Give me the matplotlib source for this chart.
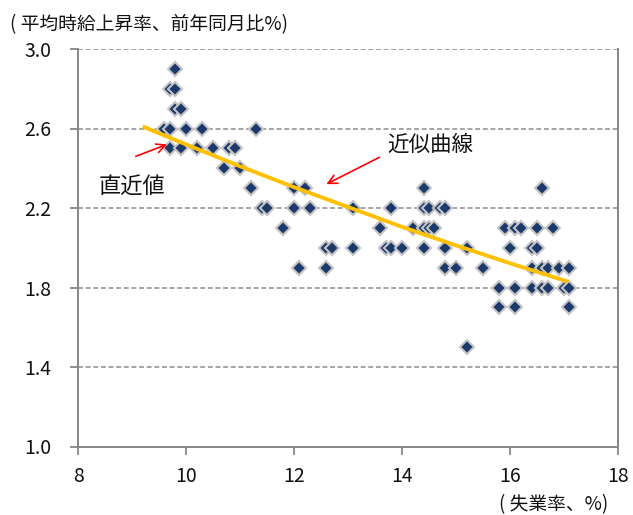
import matplotlib
matplotlib.use("Agg")
import matplotlib.pyplot as plt

plt.rcParams["font.family"] = ["Noto Sans CJK JP", "DejaVu Sans"]

# unemployment rate (%) and hourly wage growth (% y/y)
unemp = [
    9.8,
    9.7, 9.8,
    9.8, 9.9,
    9.6, 9.7, 10.0, 10.3, 11.3,
    9.7, 9.9, 10.2, 10.5, 10.8, 10.9,
    10.7, 11.0,
    11.2, 12.0, 12.2, 14.4, 16.6,
    11.4, 11.5, 12.0, 12.3, 13.1, 13.8, 14.4, 14.5, 14.7, 14.8,
    11.8, 13.6, 14.2, 14.4, 14.5, 14.6, 15.9, 16.1, 16.2, 16.5, 16.8,
    12.6, 12.7, 13.1, 13.7, 13.8, 14.0, 14.4, 14.8, 15.2, 16.0, 16.4, 16.5,
    12.1, 12.6, 14.8, 15.0, 15.5, 16.4, 16.6, 16.7, 16.9, 17.1,
    15.8, 16.1, 16.4, 16.6, 16.7, 17.0, 17.1,
    15.8, 16.1, 17.1,
    15.2,
]
wage = (
    [2.9]
    + [2.8] * 2
    + [2.7] * 2
    + [2.6] * 5
    + [2.5] * 6
    + [2.4] * 2
    + [2.3] * 5
    + [2.2] * 10
    + [2.1] * 11
    + [2.0] * 12
    + [1.9] * 10
    + [1.8] * 7
    + [1.7] * 3
    + [1.5]
)

# trend curve as drawn in the reference
trend_x = [9.2, 10.0, 11.0, 12.0, 13.0, 14.0, 15.0, 16.0, 17.08]
trend_y = [2.61, 2.52, 2.41, 2.305, 2.205, 2.105, 2.012, 1.922, 1.829]

x_ticks = [8, 10, 12, 14, 16, 18]
y_ticks = [1.0, 1.4, 1.8, 2.2, 2.6, 3.0]

fig = plt.figure(figsize=(6.33, 5.15), dpi=100)
ax = fig.add_axes([78 / 633, 1 - 446.5 / 515, 540 / 633, 397.5 / 515])

spine_color = "#868686"
for y in y_ticks[1:]:
    ax.axhline(y, color="#8c8c8c", linestyle=(0, (3.2, 1.8)), linewidth=1.1, zorder=1)

ax.plot(unemp, wage, linestyle="none", marker="D", markersize=7,
        markerfacecolor="#1B3A6B", markeredgecolor="#C4C4C4", markeredgewidth=1.5,
        zorder=3)
ax.plot(trend_x, trend_y, color="#FFC000", linewidth=2.8, solid_capstyle="butt", zorder=4)

ax.set_xlim(8, 18)
ax.set_ylim(1.0, 3.0)
ax.set_xticks(x_ticks)
ax.set_yticks(y_ticks)
ax.set_yticklabels([f"{v:.1f}" for v in y_ticks])
ax.tick_params(axis="both", labelsize=14, color=spine_color, width=1.3, length=6,
               labelcolor="#111111")
ax.tick_params(axis="x", pad=8)
ax.tick_params(axis="y", pad=13)

ax.spines["top"].set_visible(False)
for side in ["left", "right", "bottom"]:
    ax.spines[side].set_color(spine_color)
    ax.spines[side].set_linewidth(1.4)

fig.text(10 / 633, 1 - 25 / 515, "( 平均時給上昇率、前年同月比%)", fontsize=13.5,
         ha="left", va="center", color="#111111")
fig.text(608 / 633, 1 - 505 / 515, "( 失業率、%)", fontsize=13.5,
         ha="right", va="center", color="#111111")

ax.annotate("", xy=(9.65, 2.52), xytext=(9.07, 2.46),
            arrowprops=dict(arrowstyle="->", color="red", lw=1.2,
                            mutation_scale=16, shrinkA=0, shrinkB=0))
ax.text(9.0, 2.31, "直近値", fontsize=16, ha="center", va="center", color="#111111")

ax.annotate("", xy=(12.6, 2.32), xytext=(13.58, 2.455),
            arrowprops=dict(arrowstyle="->", color="red", lw=1.2,
                            mutation_scale=16, shrinkA=0, shrinkB=0))
ax.text(14.53, 2.52, "近似曲線", fontsize=15.5, ha="center", va="center", color="#111111")

fig.savefig("out.png", dpi=100)
